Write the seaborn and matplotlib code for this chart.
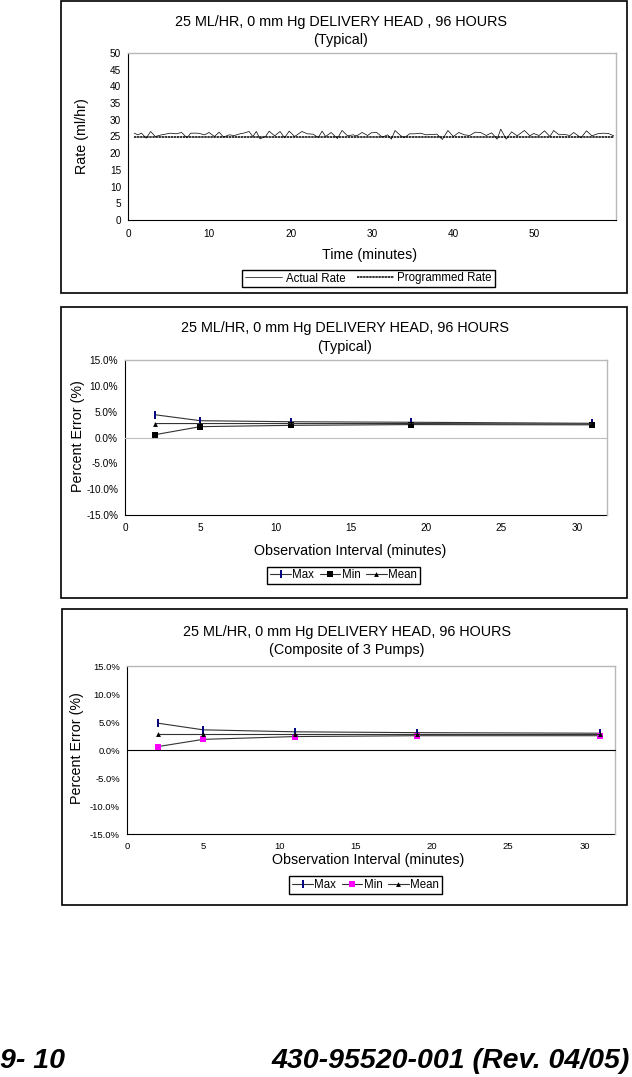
#Recreation of the 25 ML/HR delivery head charts (rate trace + percent error plots)

import matplotlib.pyplot as plt
from matplotlib.patches import Rectangle
from matplotlib.ticker import FuncFormatter, MultipleLocator
import seaborn as sns
import pandas as pd

sns.set_style('white')
plt.rcParams['font.family'] = ['Liberation Sans', 'DejaVu Sans']
plt.rcParams['text.color'] = 'black'
plt.rcParams['axes.labelcolor'] = 'black'
plt.rcParams['xtick.color'] = 'black'
plt.rcParams['ytick.color'] = 'black'

#Rate trace data
time_min = [0.76, 1.21, 1.66, 2.24, 2.78, 3.36, 4.13, 4.80, 5.25, 5.92, 6.59, 7.26, 7.71, 8.61,
            9.42, 9.96, 10.63, 11.21, 11.75, 12.42, 13.09, 13.77, 14.22, 14.89, 15.34, 15.78,
            16.23, 16.91, 17.35, 18.03, 18.70, 19.24, 19.82, 20.49, 21.39, 22.06, 22.74, 23.41,
            23.86, 24.30, 24.98, 25.74, 26.32, 26.99, 27.67, 28.12, 28.79, 29.46, 29.91, 30.58,
            31.26, 31.93, 32.38, 32.83, 33.50, 33.95, 34.62, 35.29, 35.96, 36.64, 37.31, 37.98,
            38.65, 39.33, 40.00, 40.67, 41.35, 42.02, 42.69, 43.36, 44.04, 44.71, 45.38, 45.83,
            46.50, 47.17, 47.85, 48.74, 49.42, 49.87, 50.54, 51.21, 51.88, 52.33, 53.00, 53.68,
            54.35, 54.80, 55.70, 56.37, 57.04, 57.71, 58.39, 59.06, 59.73]
actual_rate = [26.0, 25.5, 26.0, 24.5, 26.5, 25.0, 25.5, 25.8, 26.0, 25.8, 26.2, 24.6, 26.0, 26.0,
               25.5, 26.2, 25.0, 26.3, 24.8, 25.5, 25.3, 25.8, 26.0, 26.5, 25.0, 26.5,
               24.3, 25.0, 26.6, 25.2, 26.5, 24.6, 26.6, 25.0, 26.5, 25.8, 25.7, 24.7,
               26.6, 25.0, 26.2, 24.4, 26.8, 25.2, 25.5, 25.2, 26.2, 25.3, 26.1, 26.2,
               24.8, 25.5, 24.2, 26.8, 25.3, 24.6, 25.8, 25.8, 26.0, 25.5, 25.6, 25.7,
               24.1, 26.8, 25.0, 26.2, 25.5, 25.3, 26.3, 26.2, 25.3, 26.1, 24.2, 27.2,
               24.2, 26.4, 25.2, 26.8, 25.2, 25.9, 25.3, 26.7, 25.0, 26.8, 25.5, 25.6,
               25.3, 26.2, 24.6, 26.7, 25.2, 25.8, 26.0, 25.9, 25.2]
programmed_rate = 25

#Percent error data
obs_interval = [2, 5, 11, 19, 31]
typ_max = [4.4, 3.25, 3.05, 2.95, 2.75]
typ_min = [0.55, 2.1, 2.35, 2.5, 2.45]
typ_mean = [2.7, 2.7, 2.7, 2.7, 2.6]
comp_max = [4.8, 3.6, 3.25, 3.1, 3.0]
comp_min = [0.6, 1.9, 2.4, 2.55, 2.55]
comp_mean = [2.85, 2.85, 2.85, 2.85, 2.85]

W, H = 632, 1077
fig = plt.figure(figsize=(W / 100, H / 100), dpi=100)

TITLE_FS = 10.4
LABEL_FS = 10.3
LEGEND_FS = 8.3


def px_axes(left, top, right, bottom):
    return fig.add_axes([left / W, 1 - bottom / H, (right - left) / W, (bottom - top) / H])


def px_box(left, top, right, bottom):
    fig.patches.append(Rectangle((left / W, 1 - bottom / H), (right - left) / W, (bottom - top) / H,
                                 transform=fig.transFigure, fill=False, edgecolor='black', linewidth=1.2))


def px_text(x, y, s, **kw):
    fig.text(x / W, 1 - y / H, s, ha='center', va='center', **kw)


def frame_spines(ax):
    for side in ['top', 'right']:
        ax.spines[side].set_color('#b8b8b8')
        ax.spines[side].set_linewidth(1.0)
    for side in ['left', 'bottom']:
        ax.spines[side].set_color('black')
        ax.spines[side].set_linewidth(0.8)


#Chart 1 - rate over time
px_box(61, 1, 627, 293)
ax1 = px_axes(128, 53, 616, 220)
rate_df = pd.DataFrame({'Time': time_min, 'Actual': actual_rate})
rate_df['Programmed'] = programmed_rate
sns.lineplot(data=rate_df, x='Time', y='Actual', ax=ax1, color='black', linewidth=0.5, label='Actual Rate')
sns.lineplot(data=rate_df, x='Time', y='Programmed', ax=ax1, color='black', linewidth=1.1,
             linestyle=(0, (1.6, 0.4)), label='Programmed Rate')
ax1.set_xlim(0, 60)
ax1.set_ylim(0, 50)
ax1.set_xticks([0, 10, 20, 30, 40, 50])
ax1.set_xticks([5, 15, 25, 35, 45, 55, 60], minor=True)
ax1.yaxis.set_major_locator(MultipleLocator(5))
ax1.tick_params(axis='both', which='both', labelsize=7.2, colors='black', width=0.6)
ax1.tick_params(axis='x', which='both', direction='inout', length=5, pad=4)
ax1.tick_params(axis='y', direction='out', length=3, pad=2)
frame_spines(ax1)
ax1.set_xlabel('')
ax1.set_ylabel('Rate (ml/hr)', fontsize=LABEL_FS)
ax1.yaxis.set_label_coords(-0.094, 0.5)
ax1.yaxis.label.set_va('center')
ax1.get_legend().remove()
px_text(370, 255, 'Time (minutes)', fontsize=LABEL_FS)
px_text(341, 22, '25 ML/HR, 0 mm Hg DELIVERY HEAD , 96 HOURS', fontsize=TITLE_FS)
px_text(341, 40, '(Typical)', fontsize=TITLE_FS)
h, l = ax1.get_legend_handles_labels()
fig.legend(h, l, loc='center', bbox_to_anchor=(368.5 / W, 1 - 278.5 / H), ncol=2, fontsize=LEGEND_FS,
           frameon=True, fancybox=False, edgecolor='black', framealpha=1, handlelength=3.2,
           handletextpad=0.3, columnspacing=1.0, borderpad=0.25, borderaxespad=0)


def error_chart(box, axpx, title2, ymax, ymin, ymean, min_color, tick_size, minor, zero_color,
                title_y, title_x, xlab_xy, ylab_x, leg_center):
    px_box(*box)
    ax = px_axes(*axpx)
    line_kw = dict(color='#333333', linewidth=0.8, ax=ax)
    sns.lineplot(x=obs_interval, y=ymax, marker='|', markersize=6, markeredgewidth=1.4,
                 markeredgecolor='#000080', label='Max', **line_kw)
    sns.lineplot(x=obs_interval, y=ymin, marker='s', markersize=4, markeredgewidth=0,
                 markerfacecolor=min_color, label='Min', **line_kw)
    sns.lineplot(x=obs_interval, y=ymean, marker='^', markersize=3.5, markeredgewidth=0,
                 markerfacecolor='black', label='Mean', **line_kw)
    ax.set_xlim(0, 32)
    ax.set_ylim(-15, 15)
    ax.yaxis.set_major_locator(MultipleLocator(5))
    ax.yaxis.set_major_formatter(FuncFormatter(lambda v, p: f'{v:.1f}%'))
    frame_spines(ax)
    #x axis line with ticks sits at zero; labels stay on the bottom edge
    ax.spines['bottom'].set_position(('data', 0))
    ax.spines['bottom'].set_color(zero_color)
    ax.set_xticks([0, 5, 10, 15, 20, 25, 30])
    if minor:
        ax.xaxis.set_minor_locator(MultipleLocator(1))
    ax.tick_params(axis='x', which='major', direction='out', length=5, width=0.6,
                   color='#333333', labelbottom=False)
    ax.tick_params(axis='x', which='minor', direction='out', length=2.5, width=0.6, color='#333333')
    ax.tick_params(axis='y', direction='out', length=3, width=0.6, labelsize=tick_size, pad=2)
    sec = ax.secondary_xaxis('bottom')
    sec.set_xticks([0, 5, 10, 15, 20, 25, 30])
    sec.tick_params(length=0, labelsize=tick_size, pad=6, colors='black')
    sec.spines['bottom'].set_color('black')
    sec.spines['bottom'].set_linewidth(0.8)
    ax.set_xlabel('')
    ax.set_ylabel('Percent Error (%)', fontsize=LABEL_FS)
    left, top, right, bottom = axpx
    ax.yaxis.set_label_coords(-(left - ylab_x) / (right - left), 0.51)
    ax.yaxis.label.set_va('center')
    ax.get_legend().remove()
    px_text(xlab_xy[0], xlab_xy[1], 'Observation Interval (minutes)', fontsize=LABEL_FS)
    px_text(title_x, title_y[0], '25 ML/HR, 0 mm Hg DELIVERY HEAD, 96 HOURS', fontsize=TITLE_FS)
    px_text(title_x, title_y[1], title2, fontsize=TITLE_FS)
    h, l = ax.get_legend_handles_labels()
    fig.legend(h, l, loc='center', bbox_to_anchor=(leg_center[0] / W, 1 - leg_center[1] / H), ncol=3,
               fontsize=LEGEND_FS, frameon=True, fancybox=False, edgecolor='black', framealpha=1,
               handlelength=1.8, handletextpad=0.1, columnspacing=0.5, borderpad=0.25, borderaxespad=0)
    return ax


#Chart 2 - typical pump
error_chart((61, 307, 627, 598), (125, 360, 607, 515), '(Typical)', typ_max, typ_min, typ_mean,
            'black', 7.2, True, '#bdbdbd', (328, 347), 345, (350, 551), 78, (343.5, 575.5))

#Chart 3 - composite of 3 pumps
error_chart((62, 609, 627, 905), (127, 666, 615, 834), '(Composite of 3 Pumps)', comp_max, comp_min,
            comp_mean, '#ff00ff', 6.8, False, 'black', (632, 650), 347, (368, 860), 77, (365.5, 885))

#Page footer
fig.text(0, 1 - 1061 / H, '9- 10', ha='left', va='center', fontsize=20.5, fontweight='bold',
         fontstyle='italic')
fig.text(630 / W, 1 - 1061 / H, '430-95520-001 (Rev. 04/05)', ha='right', va='center', fontsize=20.5,
         fontweight='bold', fontstyle='italic')

fig.savefig('out.png', dpi=100)
